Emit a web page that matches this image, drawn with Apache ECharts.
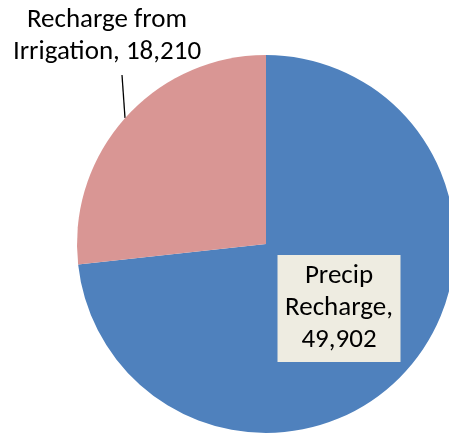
<!DOCTYPE html>
<html><head><meta charset="utf-8">
<script src="https://cdn.jsdelivr.net/npm/echarts@6/dist/echarts.min.js"></script>
<style>html,body{margin:0;padding:0;background:#fff}#c{width:449px;height:434px}</style>
</head><body><div id="c"></div>
<script>
const categories = ["Precip Recharge", "Recharge from Irrigation"];
const values = [49902, 18210];
const labelTexts = ["Precip\nRecharge,\n49,902", "Recharge from\nIrrigation, 18,210"];
const colors = ["#4F81BD", "#D99694"];

const chart = echarts.init(document.getElementById('c'), null, {renderer: 'canvas'});
const font = 'Carlito, Calibri, Lato, "Open Sans", sans-serif';
chart.setOption({
  animation: false,
  series: [{
    type: 'pie',
    center: [266, 244],
    radius: 189,
    startAngle: 90,
    clockwise: true,
    avoidLabelOverlap: false,
    itemStyle: {borderWidth: 0},
    data: categories.map((c, i) => ({
      name: c,
      value: values[i],
      itemStyle: {color: colors[i]},
      label: i === 0 ? {
        show: true, position: 'inside',
        formatter: labelTexts[i],
        backgroundColor: '#EEECE1',
        color: '#000', fontFamily: font, fontSize: 27, lineHeight: 32,
        align: 'center', verticalAlign: 'middle',
        width: 113, overflow: 'none', padding: [9, 5, 2, 5]
      } : {
        show: true, position: 'outside',
        formatter: labelTexts[i],
        color: '#000', fontFamily: font, fontSize: 27, lineHeight: 32,
        align: 'center', verticalAlign: 'middle'
      },
      labelLine: i === 0 ? {show: false} : {show: true, lineStyle: {color: '#000', width: 1.3}}
    })),
    labelLayout: function (p) {
      if (p.dataIndex === 0) {
        return {x: 339, y: 308.5, align: 'center', verticalAlign: 'middle'};
      }
      return {x: 107, y: 36, align: 'center', verticalAlign: 'middle',
        labelLinePoints: [[122, 75], [123.5, 96.5], [125, 118]]};
    }
  }]
});
</script></body></html>
